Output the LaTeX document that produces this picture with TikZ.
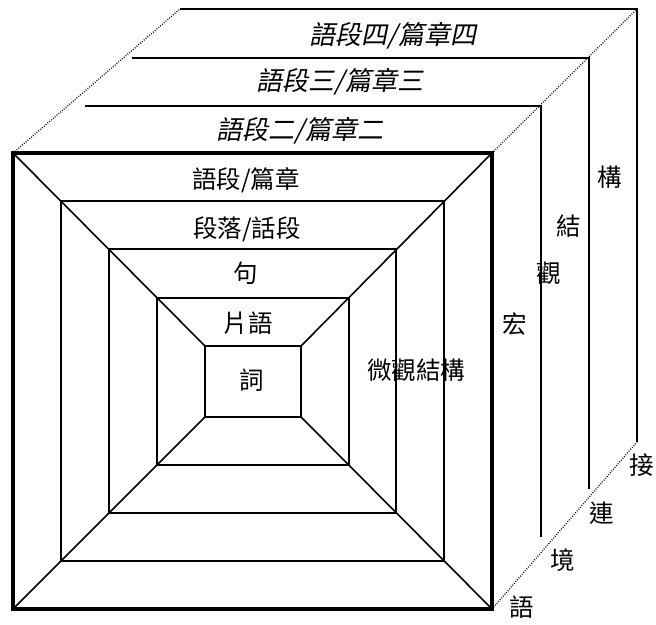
\documentclass[tikz,border=0pt]{standalone}
\usepackage{fontspec}
\setmainfont{Noto Sans CJK TC}
\newfontfamily\cjkit[FakeSlant=0.2]{Noto Sans CJK TC}
\begin{document}
\begin{tikzpicture}[x=1pt,y=-1pt,
  sq/.style={line width=1.6pt},
  outer/.style={line width=3.6pt},
  back/.style={line width=2pt},
  dots/.style={line width=1.4pt,dash pattern=on 0.8pt off 1.6pt},
  lbl/.style={font=\fontsize{24.5}{24.5}\selectfont,inner sep=0pt},
  ilbl/.style={font=\fontsize{26}{26}\selectfont\cjkit,inner sep=0pt}]
\useasboundingbox (0,0) rectangle (656,624);
% back layers
\coordinate (l3a) at (180,9);  \coordinate (l3b) at (637,9);  \coordinate (l3c) at (637,442);
\coordinate (l2a) at (132,58); \coordinate (l2b) at (589,58); \coordinate (l2c) at (589,489);
\coordinate (l1a) at (85,106); \coordinate (l1b) at (541,106); \coordinate (l1c) at (541,537);
\draw[back] (l3a) -- (l3b) -- (l3c);
\draw[back] (l2a) -- (l2b) -- (l2c);
\draw[back] (l1a) -- (l1b) -- (l1c);
% squares
\coordinate (o1) at (13,153);  \coordinate (o2) at (492,153);
\coordinate (o3) at (492,609); \coordinate (o4) at (13,609);
\coordinate (i1) at (205,346); \coordinate (i2) at (301,346);
\coordinate (i3) at (301,417); \coordinate (i4) at (205,417);
\draw[dots] (o1) -- (l3a);
\draw[dots] (o2) -- (l3b);
\draw[dots] (o3) -- (l3c);
\draw[sq] (61,201) rectangle (444,561);
\draw[sq] (109,249) rectangle (396,513);
\draw[sq] (157,298) rectangle (349,465);
\draw[sq] (i1) rectangle (i3);
\draw[sq] (o1) -- (i1) (o2) -- (i2) (o3) -- (i3) (o4) -- (i4);
\draw[outer] (o1) rectangle (o3);
% labels
\node[lbl] (t1) at (246,180) {語段/篇章};
\node[lbl] (t2) at (247,229) {段落/話段};
\node[lbl] (t3) at (246,273) {句};
\node[lbl] (t4) at (248,323) {片語};
\node[lbl] (t5) at (252,380) {詞};
\node[lbl] (t6) at (416,370) {微觀結構};
\node[ilbl] (b1) at (300,131) {語段二/篇章二};
\node[ilbl] (b2) at (340,82) {語段三/篇章三};
\node[ilbl] (b3) at (393,36) {語段四/篇章四};
\node[lbl] (m1) at (515,324) {宏};
\node[lbl] (m2) at (549,273) {觀};
\node[lbl] (m3) at (569,226) {結};
\node[lbl] (m4) at (610,177) {構};
\node[lbl] (c1) at (522,607) {語};
\node[lbl] (c2) at (563,560) {境};
\node[lbl] (c3) at (602,513) {連};
\node[lbl] (c4) at (642,465) {接};
\end{tikzpicture}
\end{document}
